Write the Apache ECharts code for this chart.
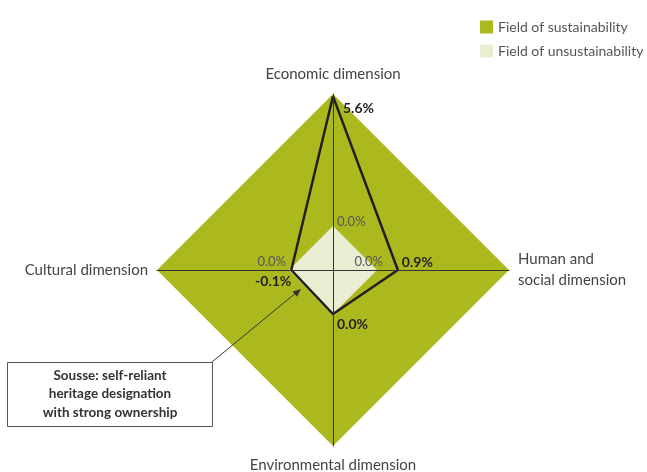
<!DOCTYPE html>
<html>
<head>
<meta charset="utf-8">
<script src="https://cdn.jsdelivr.net/npm/echarts@6/dist/echarts.min.js"></script>
<style>
  html, body { margin: 0; padding: 0; background: #fff; }
  #chart { width: 647px; height: 472px; }
</style>
</head>
<body>
<div id="chart"></div>
<script>
// indicators go counterclockwise from the top
var dimensions = ['Economic dimension', 'Cultural dimension', 'Environmental dimension', 'Human and\nsocial dimension'];
var sousseValues = [5.6, -0.1, 0.0, 0.9];
var sustainabilityField = [5.7, 5.7, 5.7, 5.7];
var unsustainabilityField = [0, 0, 0, 0];
var axisMin = -1.9;
var axisMax = 5.7;

var font = 'Lato';
var myChart = echarts.init(document.getElementById('chart'));

var option = {
    animation: false,
    textStyle: { fontFamily: font },
    legend: {
        orient: 'vertical',
        left: 475,
        top: 15,
        itemWidth: 13,
        itemHeight: 13,
        itemGap: 10,
        icon: 'rect',
        selectedMode: false,
        textStyle: { fontFamily: font, fontSize: 14, color: '#555' },
        data: ['Field of sustainability', 'Field of unsustainability']
    },
    radar: {
        center: [333, 270],
        radius: 176,
        startAngle: 90,
        shape: 'polygon',
        z: 5,
        axisName: {
            color: '#444',
            fontFamily: font,
            fontSize: 15,
            lineHeight: 21
        },
        nameGap: 9,
        indicator: dimensions.map(function (d) {
            return { name: d, min: axisMin, max: axisMax };
        }),
        axisLine: { lineStyle: { color: '#333', width: 1 } },
        axisTick: { show: false },
        axisLabel: { show: false },
        splitLine: { show: false },
        splitArea: { show: false }
    },
    series: [{
        type: 'radar',
        symbol: 'none',
        z: 2,
        data: [
            {
                name: 'Field of sustainability',
                value: sustainabilityField,
                itemStyle: { color: '#acb91e' },
                lineStyle: { width: 0 },
                areaStyle: { color: '#acb91e', opacity: 1 }
            },
            {
                name: 'Field of unsustainability',
                value: unsustainabilityField,
                itemStyle: { color: '#e9eed2' },
                lineStyle: { width: 0 },
                areaStyle: { color: '#e9eed2', opacity: 1 }
            },
            {
                name: 'Sousse',
                value: sousseValues,
                lineStyle: { color: '#231f20', width: 2.5 },
                itemStyle: { color: '#231f20' }
            }
        ]
    }]
};

myChart.setOption(option);

// value labels placed from the radar's own coordinate system
var radar = myChart.getModel().getComponent('radar', 0).coordinateSystem;
function fmt(v) { return v.toFixed(1) + '%'; }

// offsets per indicator: [dx, dy, align]
var valueOffsets = [[10, 12, 'left'], [0, 11, 'right'], [4, 10, 'left'], [4, -8, 'left']];
var zeroOffsets = [[4, -4, 'left'], [-3, -8, 'right'], null, [6, -8, 'right']];

var graphics = [];
sousseValues.forEach(function (v, i) {
    var p = radar.dataToPoint(v, i);
    var o = valueOffsets[i];
    graphics.push({
        type: 'text', z: 20,
        x: p[0] + o[0], y: p[1] + o[1],
        style: { text: fmt(v), fill: '#231f20', font: 'bold 14px ' + font, align: o[2], verticalAlign: 'middle' }
    });
});
unsustainabilityField.forEach(function (v, i) {
    var o = zeroOffsets[i];
    if (!o) return;
    var p = radar.dataToPoint(v, i);
    graphics.push({
        type: 'text', z: 20,
        x: p[0] + o[0], y: p[1] + o[1],
        style: { text: fmt(v), fill: '#555', font: '13px ' + font, align: o[2], verticalAlign: 'middle' }
    });
});

// callout box and arrow
graphics.push({
    type: 'rect', z: 20,
    shape: { x: 7.5, y: 362.5, width: 205, height: 64 },
    style: { fill: '#fff', stroke: '#555', lineWidth: 1 }
});
graphics.push({
    type: 'text', z: 21,
    x: 110, y: 394,
    style: {
        text: 'Sousse: self-reliant\nheritage designation\nwith strong ownership',
        font: 'bold 13.5px ' + font, fill: '#333', align: 'center', verticalAlign: 'middle', lineHeight: 18.5
    }
});
graphics.push({
    type: 'line', z: 20,
    shape: { x1: 212, y1: 362, x2: 297, y2: 292 },
    style: { stroke: '#333', lineWidth: 1 }
});
graphics.push({
    type: 'polygon', z: 20,
    shape: { points: [[301, 289], [297.0, 296.8], [292.6, 291.4]] },
    style: { fill: '#333' }
});

myChart.setOption({ graphic: graphics });
</script>
</body>
</html>
